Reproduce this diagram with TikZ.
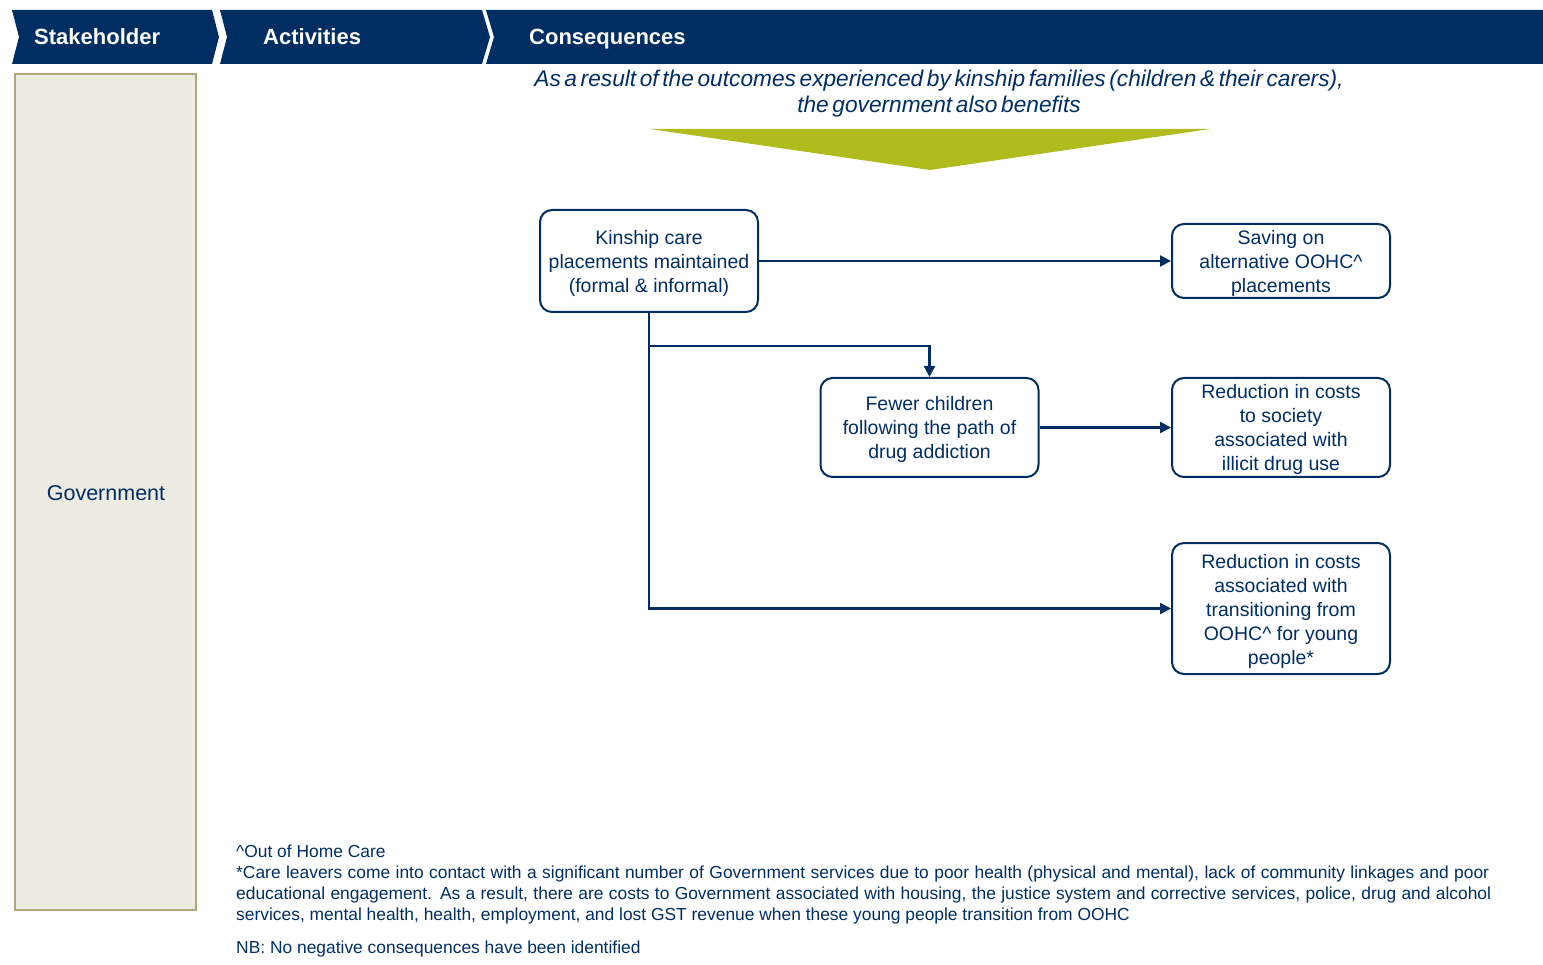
\documentclass[tikz,border=0pt]{standalone}
\usepackage{fontspec}
\setmainfont{Liberation Sans}
\usetikzlibrary{arrows.meta}
\definecolor{navy}{RGB}{0,46,99}
\definecolor{govfill}{RGB}{238,235,227}
\definecolor{govline}{RGB}{176,168,120}
\definecolor{leaf}{RGB}{176,188,30}
\newcommand{\tightspaces}{\spaceskip=0.16em plus 0.05em\relax}
% box label: centred lines, ink set slightly below the geometric centre
\newcommand{\boxlines}[1]{\raisebox{-2.7pt}[\height][\depth]{\begin{tabular}{@{}c@{}}#1\end{tabular}}}
\begin{document}
\begin{tikzpicture}[x=1pt,y=-1pt,
  headtext/.style={anchor=base west,text=white,font=\fontsize{22}{26}\selectfont\bfseries,inner sep=0pt},
  flowbox/.style={draw=navy,line width=2pt,rounded corners=12pt,fill=white,text=navy,
    inner sep=0pt,minimum width=218pt,font=\fontsize{19.5}{24}\selectfont},
  link/.style={draw=navy,line width=2.2pt,-{Triangle[length=11pt,width=11pt]}},
  note/.style={anchor=base west,text=navy,inner sep=0pt,font=\fontsize{17.4}{21}\selectfont}]
\useasboundingbox (0,0) rectangle (1543,965);

% header chevrons
\fill[navy] (12,10) -- (212,10) -- (219,37) -- (212,64) -- (12,64) -- (19,37) -- cycle;
\fill[navy] (220,10) -- (482,10) -- (490,37) -- (482,64) -- (220,64) -- (227,37) -- cycle;
\fill[navy] (486,10) -- (1543,10) -- (1543,64) -- (486,64) -- (494,37) -- cycle;
\node[headtext] (hstake) at (34,45) {Stakeholder};
\node[headtext] (hact) at (263,45) {Activities};
\node[headtext] (hcons) at (529,45) {Consequences};

% stakeholder column
\draw[govline,fill=govfill,line width=2pt] (15,74) rectangle (196,910);
\node[text=navy,font=\fontsize{21.5}{24}\selectfont] (gov) at (106,493) {Government};

% intro and funnel
\node[text=navy,align=center,inner sep=0pt,
  font=\fontsize{22.7}{26}\selectfont\itshape] (intro) at (939,94)
  {\tightspaces As a result of the outcomes experienced by kinship families (children \& their carers),\\
   \tightspaces the government also benefits};
\fill[leaf] (650,129) -- (1210,129) -- (930,170) -- cycle;

% outcome boxes
\node[flowbox,minimum height=102pt] (kin) at (649,261)
  {\boxlines{Kinship care\\placements maintained\\(formal \& informal)}};
\node[flowbox,minimum height=74pt] (save) at (1281,261)
  {\boxlines{Saving on\\alternative OOHC\textasciicircum\\placements}};
\node[flowbox,minimum height=99pt] (fewer) at (929.5,427.5)
  {\boxlines{Fewer children\\following the path of\\drug addiction}};
\node[flowbox,minimum height=99pt] (drug) at (1281,427.5)
  {\boxlines{Reduction in costs\\to society\\associated with\\illicit drug use}};
\node[flowbox,minimum height=131pt] (trans) at (1281,608.5)
  {\boxlines{Reduction in costs\\associated with\\transitioning from\\OOHC\textasciicircum{} for young\\people*}};

% connectors
\coordinate (split) at (kin.south |- 0,346);
\draw[link] (kin.east) -- (save.west);
\draw[link] (kin.south) |- (trans.west);
\draw[link] (split) -| (fewer.north);
\draw[link] (fewer.east) -- (drug.west);

% footnotes
\node[note] (n1) at (236,857) {\textasciicircum Out of Home Care};
\node[note] (n2) at (236,878) {\makebox[1253pt][s]{*Care leavers come into contact with a significant number of Government services due to poor health (physical and mental), lack of community linkages and poor}};
\node[note] (n3) at (236,899) {\makebox[1255pt][s]{educational engagement. As a result, there are costs to Government associated with housing, the justice system and corrective services, police, drug and alcohol}};
\node[note] (n4) at (236,920) {services, mental health, health, employment, and lost GST revenue when these young people transition from OOHC};
\node[note] (n5) at (236,953) {NB: No negative consequences have been identified};
\end{tikzpicture}
\end{document}
